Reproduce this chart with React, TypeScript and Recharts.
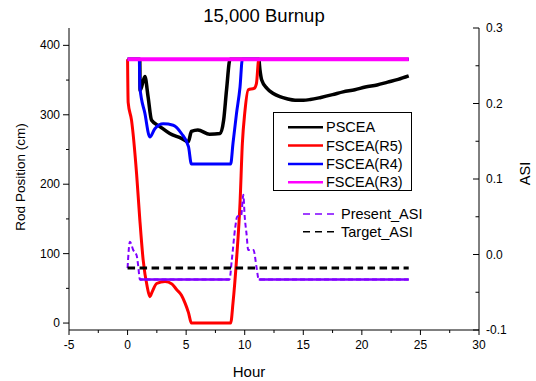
import { LineChart, Line, XAxis, YAxis } from "recharts";

const FONT = "'Liberation Sans', Arial, Helvetica, sans-serif";

// rod position (cm) vs hour
const PSCEA_HOUR = [0, 1.04, 1.07, 1.48, 1.75, 2.05, 2.76, 3.6, 4.6, 5.18, 5.45, 6.0, 7.0, 7.9, 8.2, 8.45, 8.75, 11.2, 11.3, 11.45, 11.9, 12.4, 13.0, 13.6, 14.3, 15.0, 15.6, 16.5, 17.5, 18.4, 19.4, 20.3, 21.3, 22.2, 23.1, 24.0];
const PSCEA_POS = [380, 380, 335, 355, 326, 292, 283, 273, 266, 261, 276, 278, 272, 273, 292, 336, 380, 380, 365, 350, 338, 331, 326, 323, 321, 321, 322, 325, 329, 333, 336, 340, 343, 347, 351, 356];

const R5_HOUR = [0, 0.05, 0.34, 0.77, 1.05, 1.33, 1.68, 1.9, 2.1, 2.48, 3.2, 3.8, 4.2, 4.6, 4.9, 5.2, 5.45, 8.8, 9.0, 9.3, 9.6, 9.8, 10.0, 10.3, 10.8, 11.0, 11.2, 24];
const R5_POS = [380, 318, 292, 215, 148, 91, 52, 38, 45, 57, 60, 56, 48, 40, 29, 15, 0, 0, 29, 91, 173, 259, 302, 336, 338, 345, 380, 380];

const R4_HOUR = [0, 1.0, 1.05, 1.48, 1.9, 2.33, 3.05, 3.9, 4.6, 5.2, 5.45, 8.8, 9.0, 9.3, 9.6, 9.8, 24];
const R4_POS = [380, 380, 340, 302, 268, 280, 287, 285, 273, 254, 229, 229, 259, 302, 340, 380, 380];

const R3_HOUR = [0, 24];
const R3_POS = [380, 380];

// ASI vs hour
const PRESENT_HOUR = [0, 0.2, 0.48, 0.77, 0.9, 1.05, 8.7, 8.9, 9.2, 9.35, 9.7, 9.88, 10.0, 10.15, 10.3, 10.75, 11.0, 11.2, 24];
const PRESENT_ASI = [-0.018, 0.017, 0.006, -0.001, -0.014, -0.033, -0.033, -0.007, 0.037, 0.05, 0.052, 0.079, 0.05, 0.028, 0.006, 0.006, -0.016, -0.033, -0.033];
const PRESENT_STEADY = [[1.05, 8.7], [11.2, 24]];

const TARGET_HOUR = [0, 24];
const TARGET_ASI = [-0.018, -0.018];

const X_TICKS = [-5, -2.5, 0, 2.5, 5, 7.5, 10, 12.5, 15, 17.5, 20, 22.5, 25, 27.5, 30];
const LEFT_TICKS = [0, 50, 100, 150, 200, 250, 300, 350, 400];
const RIGHT_TICKS = [-0.1, -0.05, 0, 0.05, 0.1, 0.15, 0.2, 0.25, 0.3];

const zip = (hs: number[], vs: number[]) => hs.map((h, i) => ({ h, v: vs[i] }));

const presentSteady = PRESENT_HOUR.map((h, i) => ({
  h,
  v: PRESENT_STEADY.some(([a, b]) => h >= a && h <= b) ? PRESENT_ASI[i] : null,
}));

const BottomTick = ({ x, y, payload }: any) => {
  const major = payload.value % 5 === 0;
  return (
    <g>
      <line x1={x} x2={x} y1={y} y2={y + (major ? 5 : 3)} stroke="#000" />
      {major && (
        <text x={x} y={y + 19} textAnchor="middle" fontSize={12} fontFamily={FONT} fill="#000">
          {payload.value}
        </text>
      )}
    </g>
  );
};

const LeftTick = ({ x, y, payload }: any) => {
  const major = payload.value % 100 === 0;
  return (
    <g>
      <line x1={x - (major ? 6 : 3)} x2={x} y1={y} y2={y} stroke="#000" />
      {major && (
        <text x={x - 9} y={y + 4} textAnchor="end" fontSize={12} fontFamily={FONT} fill="#000">
          {payload.value}
        </text>
      )}
    </g>
  );
};

const RightTick = ({ x, y, payload }: any) => {
  const v = payload.value;
  const major = Math.abs(v * 10 - Math.round(v * 10)) < 1e-6;
  return (
    <g>
      <line x1={x - (major ? 6 : 3.5)} x2={x} y1={y} y2={y} stroke="#000" />
      {major && (
        <text x={x + 7} y={y + 4} textAnchor="start" fontSize={12} fontFamily={FONT} fill="#000">
          {v.toFixed(1)}
        </text>
      )}
    </g>
  );
};

const LEGEND_MAIN = [
  { name: "PSCEA", color: "#000000" },
  { name: "FSCEA(R5)", color: "#ff0000" },
  { name: "FSCEA(R4)", color: "#0000ff" },
  { name: "FSCEA(R3)", color: "#ff00ff" },
];

export default function App() {
  return (
    <div style={{ position: "absolute", left: 0, top: 0, width: 536, height: 381, background: "#fff" }}>
      <LineChart width={536} height={381} margin={{ top: 28, right: 0, bottom: 0, left: 0 }}>
        <XAxis
          type="number"
          dataKey="h"
          domain={[-5, 30]}
          ticks={X_TICKS}
          interval={0}
          allowDataOverflow
          height={51}
          tickSize={0}
          tickMargin={0}
          tickLine={false}
          axisLine={{ stroke: "#000" }}
          tick={<BottomTick />}
        />
        <YAxis
          yAxisId="left"
          type="number"
          domain={[-10, 425]}
          ticks={LEFT_TICKS}
          interval={0}
          allowDataOverflow
          width={69}
          tickSize={0}
          tickMargin={0}
          tickLine={false}
          axisLine={{ stroke: "#000" }}
          tick={<LeftTick />}
        />
        <YAxis
          yAxisId="right"
          orientation="right"
          type="number"
          domain={[-0.1, 0.3]}
          ticks={RIGHT_TICKS}
          interval={0}
          allowDataOverflow
          width={57}
          tickSize={0}
          tickMargin={0}
          tickLine={false}
          axisLine={{ stroke: "#000" }}
          tick={<RightTick />}
        />
        <Line yAxisId="left" data={zip(PSCEA_HOUR, PSCEA_POS)} dataKey="v" type="monotone" stroke="#000000" strokeWidth={3.5} dot={false} isAnimationActive={false} />
        <Line yAxisId="left" data={zip(R5_HOUR, R5_POS)} dataKey="v" type="monotone" stroke="#ff0000" strokeWidth={3} dot={false} isAnimationActive={false} />
        <Line yAxisId="left" data={zip(R4_HOUR, R4_POS)} dataKey="v" type="monotone" stroke="#0000ff" strokeWidth={3} dot={false} isAnimationActive={false} />
        <Line yAxisId="left" data={zip(R3_HOUR, R3_POS)} dataKey="v" type="linear" stroke="#ff00ff" strokeWidth={4} dot={false} isAnimationActive={false} />
        <Line yAxisId="right" data={zip(PRESENT_HOUR, PRESENT_ASI)} dataKey="v" type="monotone" stroke="#8000ff" strokeWidth={2} strokeDasharray="5 3" dot={false} isAnimationActive={false} />
        <Line yAxisId="right" data={presentSteady} dataKey="v" type="linear" stroke="#8000ff" strokeWidth={2.5} dot={false} isAnimationActive={false} />
        <Line yAxisId="right" data={zip(TARGET_HOUR, TARGET_ASI)} dataKey="v" type="linear" stroke="#000000" strokeWidth={3} strokeDasharray="7.5 4.5" dot={false} isAnimationActive={false} />
      </LineChart>

      <svg width={536} height={381} style={{ position: "absolute", left: 0, top: 0, pointerEvents: "none" }} fontFamily={FONT}>
        <text x={264} y={21.5} textAnchor="middle" fontSize={18.5} fill="#000">15,000 Burnup</text>
        <text x={249} y={377} textAnchor="middle" fontSize={15} fill="#000">Hour</text>
        <text transform="translate(25,177) rotate(-90)" textAnchor="middle" fontSize={13.5} fill="#000">Rod Position (cm)</text>
        <text transform="translate(530,173.5) rotate(-90)" textAnchor="middle" fontSize={14.5} fill="#000">ASI</text>

        <rect x={273.5} y={112.5} width={138} height={78} fill="#fff" stroke="#000" strokeWidth={1} />
        {LEGEND_MAIN.map((item, i) => {
          const y = 127.3 + i * 18.3;
          return (
            <g key={item.name}>
              <line x1={288} x2={323} y1={y} y2={y} stroke={item.color} strokeWidth={2.5} />
              <text x={326} y={y + 5} fontSize={14.5} fill="#000">{item.name}</text>
            </g>
          );
        })}

        <line x1={303} x2={338} y1={214} y2={214} stroke="#8000ff" strokeWidth={1.5} strokeDasharray="7 5" />
        <text x={341} y={219} fontSize={14.5} fill="#000">Present_ASI</text>
        <line x1={303} x2={338} y1={231.7} y2={231.7} stroke="#000" strokeWidth={1.5} strokeDasharray="7 5" />
        <text x={341} y={236.7} fontSize={14.5} fill="#000">Target_ASI</text>
      </svg>
    </div>
  );
}
